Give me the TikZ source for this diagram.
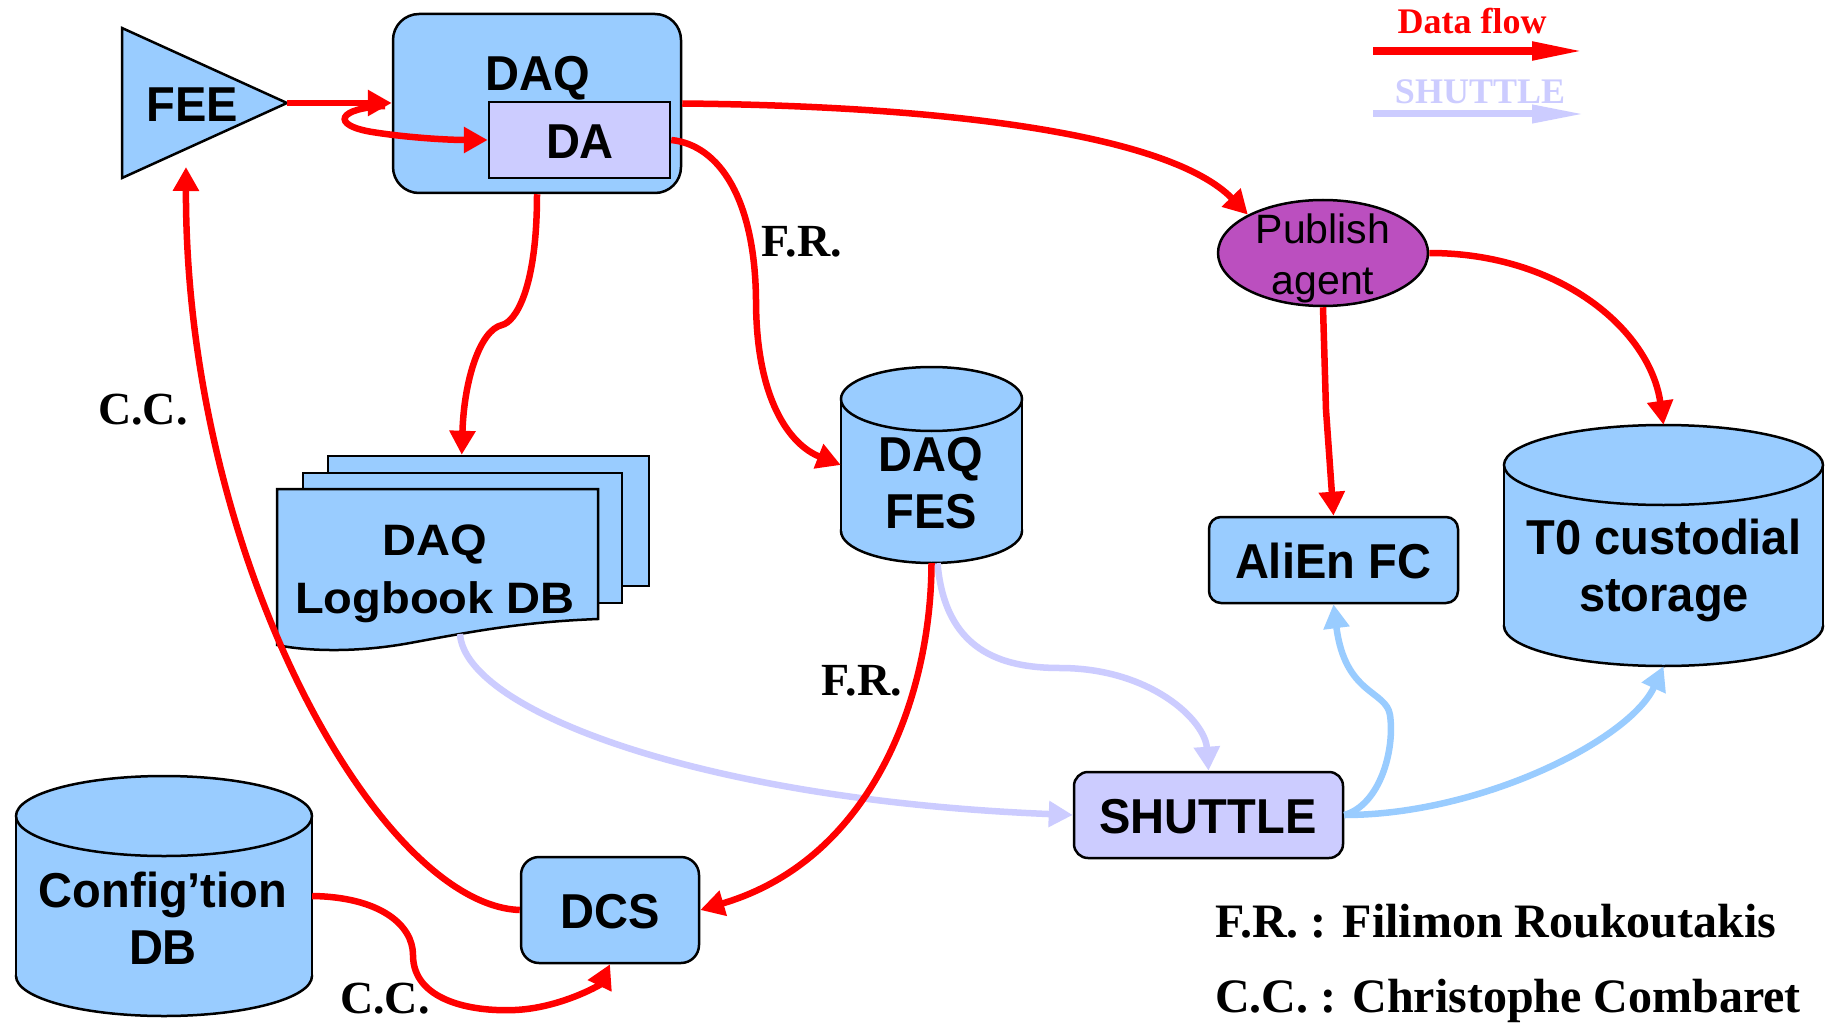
\documentclass[tikz,border=0pt]{standalone}
\usepackage{fontspec}
\setmainfont{Liberation Serif}
\newfontfamily\boxfont[FakeStretch=0.96]{Liberation Sans}
\newfontfamily\wideboxfont[FakeStretch=1.07]{Liberation Sans}
\newfontfamily\agentfont{Liberation Sans}
\usetikzlibrary{arrows.meta,shapes.geometric,calc}

\definecolor{boxblue}{HTML}{99CCFF}
\definecolor{lavender}{HTML}{CCCCFF}
\definecolor{agentpurple}{HTML}{BB4FBF}
\definecolor{flowred}{HTML}{FF0000}

\tikzset{
  outline/.style={draw=black, line width=2.5pt},
  bluebox/.style={outline, fill=boxblue, inner sep=0pt},
  lavbox/.style={outline, fill=lavender, inner sep=0pt},
  cylcap/.style={ellipse, outline, fill=boxblue, inner sep=0pt},
  frame/.style={rectangle, inner sep=0pt},
  lbl/.style={font=\boxfont\bfseries\fontsize{49}{57}\selectfont, align=center, inner sep=0pt},
  note/.style={font=\bfseries\fontsize{46}{50}\selectfont, inner sep=0pt, anchor=base},
  credit/.style={font=\bfseries\fontsize{48}{52}\selectfont, inner sep=0pt, anchor=base west},
  legendtxt/.style={font=\bfseries\fontsize{36}{40}\selectfont, inner sep=0pt, anchor=base},
  flow/.style={draw=flowred, line width=6.5pt, -{Triangle[length=24pt,width=25pt]}},
  shuttleflow/.style={draw=lavender, line width=6.5pt, -{Triangle[length=24pt,width=25pt]}},
  alienflow/.style={draw=boxblue, line width=6.5pt, -{Triangle[length=24pt,width=25pt]}},
  legendarrow/.style={line width=8pt, -{Triangle[length=53pt,width=17pt]}},
}

% database cylinder: name, left, right, top, bottom, cap half-height
\newcommand\dbcylinder[6]{%
  \pgfmathsetmacro\cylcx{(#2+#3)/2}%
  \pgfmathsetmacro\cylcy{(#4+#5)/2}%
  \pgfmathsetmacro\cylw{#3-#2}%
  \pgfmathsetmacro\cylH{#5-#4}%
  \pgfmathsetmacro\cylh{2*#6}%
  \node[cylcap, minimum width=\cylw pt, minimum height=\cylh pt] (#1-base) at (\cylcx,#5-#6) {};
  \fill[boxblue] (#2,#4+#6) rectangle (#3,#5-#6);
  \draw[outline] (#2,#4+#6) -- (#2,#5-#6) (#3,#4+#6) -- (#3,#5-#6);
  \node[cylcap, minimum width=\cylw pt, minimum height=\cylh pt] (#1-top) at (\cylcx,#4+#6) {};
  \node[frame, minimum width=\cylw pt, minimum height=\cylH pt] (#1) at (\cylcx,\cylcy) {};
}

\begin{document}
\begin{tikzpicture}[x=1pt, y=-1pt]
\useasboundingbox (0,0) rectangle (1825,1024);
\fill[white] (0,0) rectangle (1825,1024);

% ---------- front-end electronics ----------
\draw[outline, fill=boxblue] (122,28) -- (287,103) -- (122,178) -- cycle;
\node[lbl] (feetxt) at (192,105) {FEE};
\coordinate (feeapex) at (287,103);
\coordinate (feefoot) at (186,167);

% ---------- DAQ with its DA ----------
\node[bluebox, rounded corners=26pt, minimum width=288pt, minimum height=179pt] (daq) at (537,103.5) {};
\node[lbl] (daqtxt) at (538,78) {DAQ};
\node[lavbox, minimum width=181pt, minimum height=76pt] (da) at (579.5,140) {};
\node[lbl] (datxt) at (580,142) {DA};

% ---------- DAQ logbook (stacked documents) ----------
\node[bluebox, minimum width=321pt, minimum height=130pt] (logback) at (488.5,521) {};
\node[bluebox, minimum width=319pt, minimum height=130pt] (logmid) at (462.5,538) {};
\draw[outline, fill=boxblue] (277,489) -- (598,489) -- (598,619)
  .. controls (520,622) and (470,632) .. (410,643)
  .. controls (350,654) and (300,650) .. (277,645) -- cycle;
\node[font=\wideboxfont\bfseries\fontsize{44}{58}\selectfont, align=center, inner sep=0pt] (logbook) at (435,574) {DAQ\\Logbook DB};
\coordinate (logb) at (460,634);

% ---------- databases ----------
\dbcylinder{fes}{841}{1022}{367}{563}{32}
\node[lbl] (festxt) at (931,483) {DAQ\\FES};

\dbcylinder{cfg}{16}{312}{776}{1016}{40}
\node[lbl] (cfgtxt) at (163,918) {Config’tion\\DB};

\dbcylinder{t0}{1504}{1823}{425}{666}{40}
\node[lbl] (t0txt) at (1664,570) {T0 custodial\\storage};

% ---------- other boxes ----------
\node[bluebox, rounded corners=18pt, minimum width=178pt, minimum height=106pt] (dcs) at (610,910) {};
\node[lbl] (dcstxt) at (610,912) {DCS};

\node[bluebox, rounded corners=12pt, minimum width=249pt, minimum height=86pt] (alien) at (1333.5,560) {};
\node[lbl] (alientxt) at (1333,561) {AliEn FC};

\node[lavbox, rounded corners=14pt, minimum width=269pt, minimum height=86pt] (shuttle) at (1208.5,815) {};
\node[lbl] (shuttletxt) at (1208,817) {SHUTTLE};

\node[ellipse, outline, fill=agentpurple, minimum width=210pt, minimum height=106pt, inner sep=0pt] (agent) at (1323,253) {};
\node[font=\agentfont\fontsize{41}{51}\selectfont, align=center, inner sep=0pt] (agenttxt) at (1323,258) {Publish\\agent};

% ---------- SHUTTLE inputs (lavender) ----------
\draw[shuttleflow] (logb) .. controls (465,710) and (700,800) .. (shuttle.west);
\draw[shuttleflow] ($(fes.south)+(6,0)$) .. controls (945,650) and (1000,668) .. (1060,668)
  .. controls (1150,668) and (1205,720) .. (shuttle.north);

% ---------- SHUTTLE outputs (light blue) ----------
\draw[alienflow] (shuttle.east) .. controls (1380,805) and (1395,750) .. (1390,715)
  .. controls (1386,690) and (1345,695) .. (alien.south);
\draw[alienflow] (shuttle.east) .. controls (1480,815) and (1630,740) .. (t0.south);

% ---------- data flow (red) ----------
\draw[flow] (feeapex) -- (feeapex -| daq.west);
\coordinate (loopA) at (385,106);
\draw[flow] (loopA) .. controls (338,108) and (330,125) .. (372,132)
  .. controls (410,138) and (450,140) .. (da.west);
\draw[flow] (daq.east) .. controls (950,106) and (1170,135) .. (agent.north west);
\draw[flow] (daq.south) .. controls (537,290) and (515,322) .. (502,325)
  .. controls (480,330) and (464,380) .. ($(logback.north west)+(135,0)$);
\draw[flow] (da.east) .. controls (720,145) and (755,200) .. (756,300)
  .. controls (756,400) and (790,445) .. (fes.west);
\draw[flow] (fes.south) .. controls (931,700) and (870,860) .. (dcs.east);
\draw[flow] (dcs.west) .. controls (380,905) and (185,560) .. (feefoot);
\draw[flow] (cfg.east) .. controls (380,897) and (413,925) .. (413,955)
  .. controls (413,1000) and (470,1012) .. (515,1010)
  .. controls (560,1008) and (600,985) .. (dcs.south);
\draw[flow] (agent.south) -- (1326,410) -- (alien.north);
\draw[flow] (agent.east) .. controls (1560,253) and (1650,330) .. (t0.north);

% ---------- connector notes ----------
\node[note] (fr1) at (802,257) {F.R.};
\node[note] (cc1) at (143,424) {C.C.};
\node[note] (fr2) at (862,695) {F.R.};
\node[note] (cc2) at (385,1013) {C.C.};

% ---------- legend ----------
\node[legendtxt, text=flowred] (dflabel) at (1472,34) {Data flow};
\coordinate (lg1a) at (1373,51);
\coordinate (lg1b) at (1585,51);
\draw[legendarrow, draw=flowred] (lg1a) -- (lg1b);
\node[legendtxt, text=lavender] (shlabel) at (1480,104) {SHUTTLE};
\coordinate (lg2a) at (1373,114);
\coordinate (lg2b) at (1585,114);
\draw[legendarrow, draw=lavender, line width=7pt] (lg2a) -- (lg2b);

\node[credit] (frname) at (1215,937) {F.R. : Filimon Roukoutakis};
\node[credit] (ccname) at (1215,1012) {C.C. : Christophe Combaret};
\end{tikzpicture}
\end{document}
